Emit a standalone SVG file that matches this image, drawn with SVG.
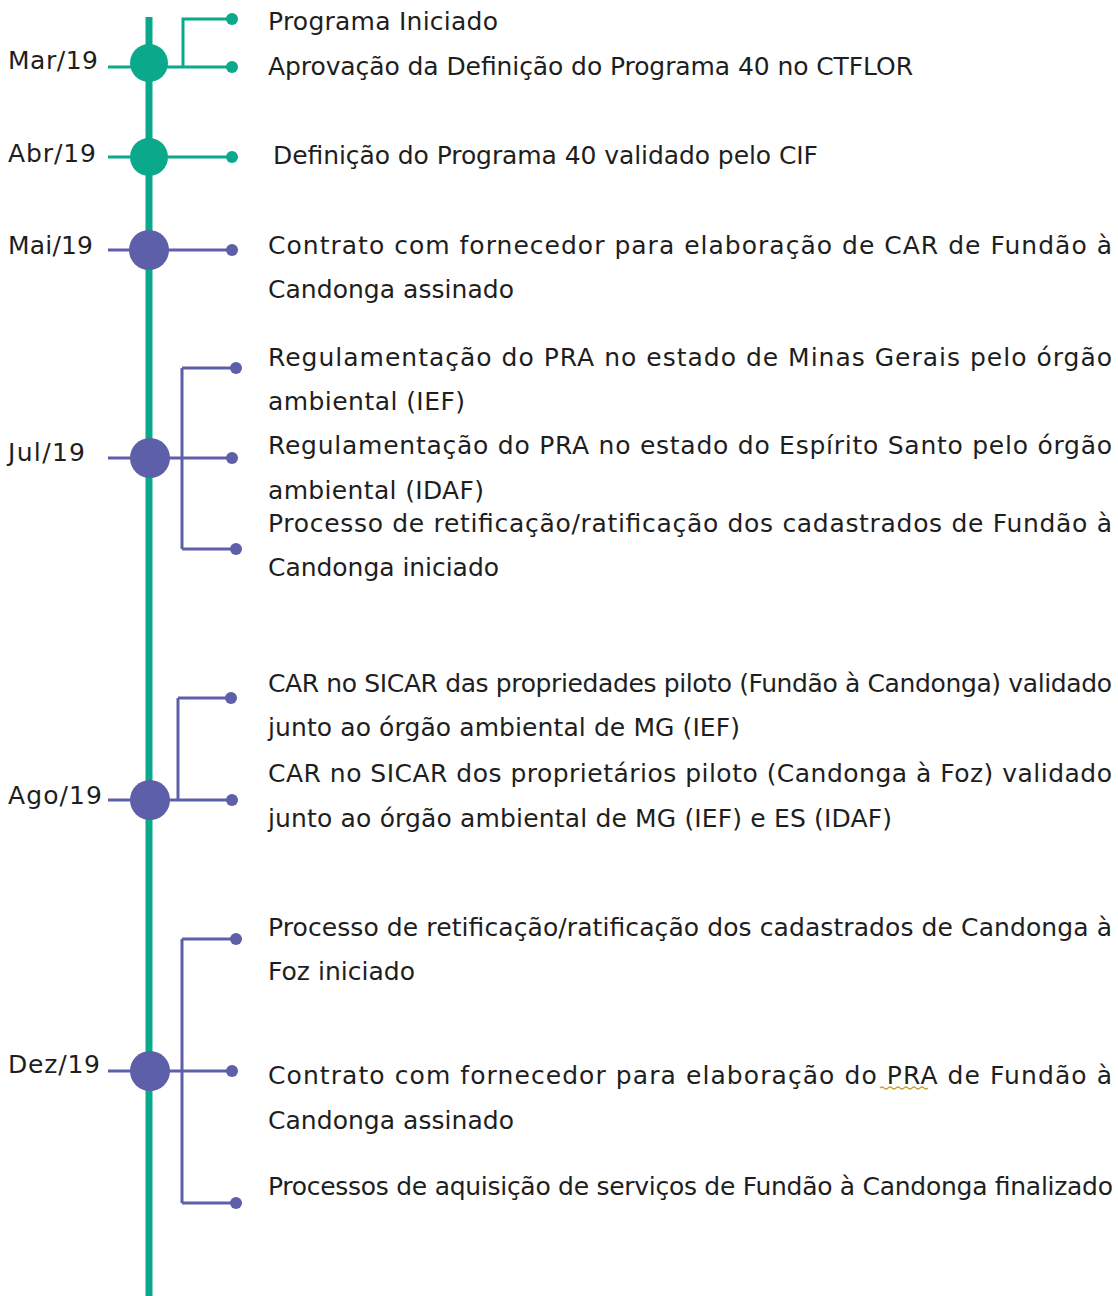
<svg xmlns="http://www.w3.org/2000/svg" width="1118" height="1296" viewBox="0 0 1118 1296">
<style>
text{font-family:"DejaVu Sans","Verdana",sans-serif;font-size:25px;fill:#1e1e1e}
.t{stroke:#0BA98B;stroke-width:3;fill:none}
.p{stroke:#5E5FA9;stroke-width:3;fill:none}
.tf{fill:#0BA98B}
.pf{fill:#5E5FA9}
</style>
<rect width="1118" height="1296" fill="#fff"/>
<g id="axis"><line x1="149" y1="17" x2="149" y2="1296" stroke="#0BA98B" stroke-width="7"/></g>
<g id="connectors">
<path class="t" d="M108 67H232M183 67V19H232"/>
<path class="t" d="M108 157H232"/>
<path class="p" d="M108 250H232"/>
<path class="p" d="M108 458H232M182 368V549M182 368H236M182 549H236"/>
<path class="p" d="M108 800H232M178 698V800M178 698H231"/>
<path class="p" d="M108 1071H232M182 939V1203M182 939H236M182 1203H236"/>
</g>
<g id="mar">
<circle class="tf" cx="149" cy="63" r="19"/>
<circle class="tf" cx="232" cy="19" r="6"/><circle class="tf" cx="232" cy="67" r="6"/>
<text x="8" y="69" textLength="90" lengthAdjust="spacing">Mar/19</text>
<text x="268" y="30" textLength="230" lengthAdjust="spacing">Programa Iniciado</text>
<text x="268" y="75" textLength="645" lengthAdjust="spacing">Aprovação da Definição do Programa 40 no CTFLOR</text>
</g>
<g id="abr">
<circle class="tf" cx="149" cy="157" r="19"/>
<circle class="tf" cx="232" cy="157" r="6"/>
<text x="8" y="162" textLength="88" lengthAdjust="spacing">Abr/19</text>
<text x="273" y="164" textLength="545" lengthAdjust="spacing">Definição do Programa 40 validado pelo CIF</text>
</g>
<g id="mai">
<circle class="pf" cx="149" cy="250" r="20"/>
<circle class="pf" cx="232" cy="250" r="6"/>
<text x="8" y="254" textLength="85" lengthAdjust="spacing">Mai/19</text>
<text x="268" y="254" textLength="844" lengthAdjust="spacing">Contrato com fornecedor para elaboração de CAR de Fundão à</text>
<text x="268" y="298" textLength="246" lengthAdjust="spacing">Candonga assinado</text>
</g>
<g id="jul">
<circle class="pf" cx="150" cy="458" r="20"/>
<circle class="pf" cx="236" cy="368" r="6"/><circle class="pf" cx="232" cy="458" r="6"/><circle class="pf" cx="236" cy="549" r="6"/>
<text x="8" y="461" textLength="77" lengthAdjust="spacing">Jul/19</text>
<text x="268" y="366" textLength="844" lengthAdjust="spacing">Regulamentação do PRA no estado de Minas Gerais pelo órgão</text>
<text x="268" y="410" textLength="197" lengthAdjust="spacing">ambiental (IEF)</text>
<text x="268" y="454" textLength="844" lengthAdjust="spacing">Regulamentação do PRA no estado do Espírito Santo pelo órgão</text>
<text x="268" y="499" textLength="216" lengthAdjust="spacing">ambiental (IDAF)</text>
<text x="268" y="532" textLength="844" lengthAdjust="spacing">Processo de retificação/ratificação dos cadastrados de Fundão à</text>
<text x="268" y="576" textLength="231" lengthAdjust="spacing">Candonga iniciado</text>
</g>
<g id="ago">
<circle class="pf" cx="150" cy="800" r="20"/>
<circle class="pf" cx="231" cy="698" r="6"/><circle class="pf" cx="232" cy="800" r="6"/>
<text x="8" y="804" textLength="94" lengthAdjust="spacing">Ago/19</text>
<text x="268" y="692" textLength="844" lengthAdjust="spacing">CAR no SICAR das propriedades piloto (Fundão à Candonga) validado</text>
<text x="268" y="736" textLength="472" lengthAdjust="spacing">junto ao órgão ambiental de MG (IEF)</text>
<text x="268" y="782" textLength="844" lengthAdjust="spacing">CAR no SICAR dos proprietários piloto (Candonga à Foz) validado</text>
<text x="268" y="827" textLength="624" lengthAdjust="spacing">junto ao órgão ambiental de MG (IEF) e ES (IDAF)</text>
</g>
<g id="dez">
<circle class="pf" cx="150" cy="1071" r="20"/>
<circle class="pf" cx="236" cy="939" r="6"/><circle class="pf" cx="232" cy="1071" r="6"/><circle class="pf" cx="236" cy="1203" r="6"/>
<text x="8" y="1073" textLength="92" lengthAdjust="spacing">Dez/19</text>
<text x="268" y="936" textLength="844" lengthAdjust="spacing">Processo de retificação/ratificação dos cadastrados de Candonga à</text>
<text x="268" y="980" textLength="147" lengthAdjust="spacing">Foz iniciado</text>
<text x="268" y="1084" textLength="844" lengthAdjust="spacing">Contrato com fornecedor para elaboração do PRA de Fundão à</text>
<path d="M880 1088q2-2 4 0t4 0t4 0t4 0t4 0t4 0t4 0t4 0t4 0t4 0t4 0t4 0" stroke="#C9A23A" stroke-width="1.3" fill="none"/>
<text x="268" y="1129" textLength="246" lengthAdjust="spacing">Candonga assinado</text>
<text x="268" y="1195" textLength="845" lengthAdjust="spacing">Processos de aquisição de serviços de Fundão à Candonga finalizado</text>
</g>
</svg>
